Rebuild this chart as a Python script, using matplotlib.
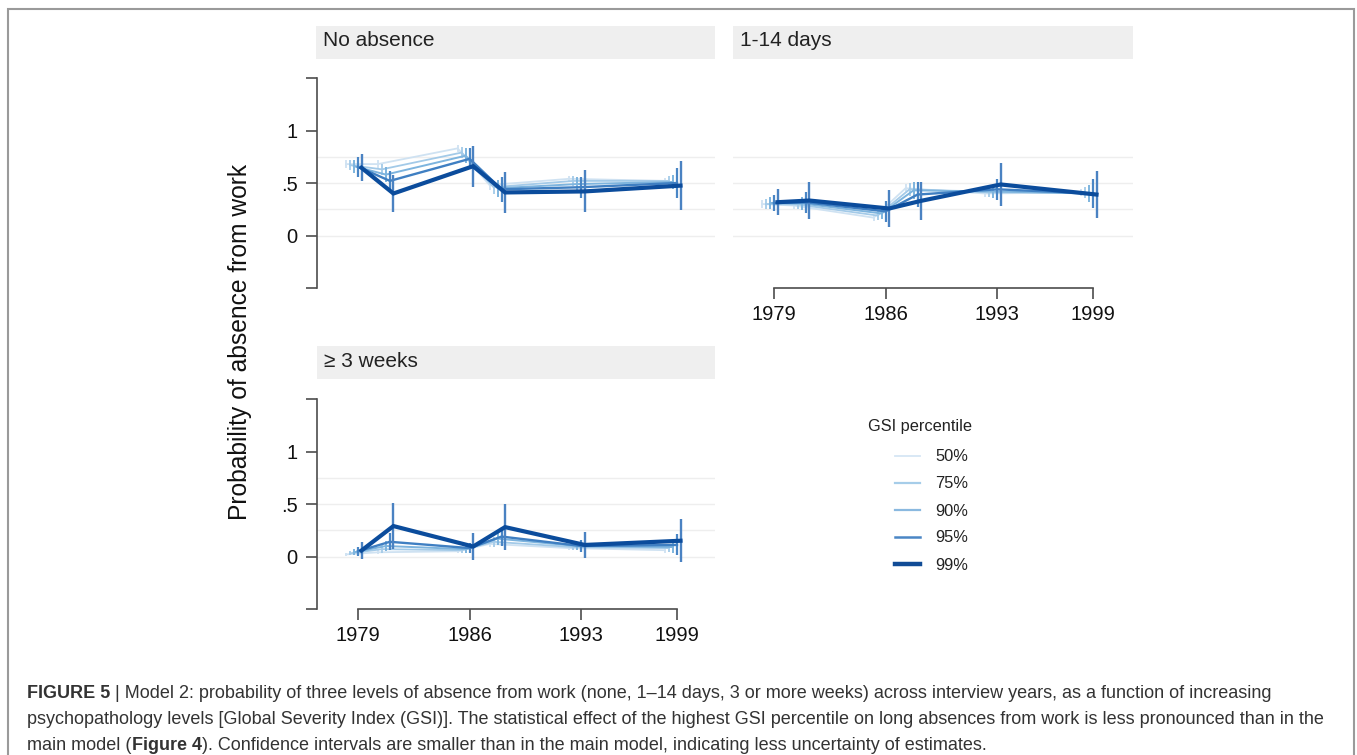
import matplotlib
matplotlib.use("Agg")
import matplotlib.pyplot as plt
from matplotlib.patches import Rectangle
from matplotlib.lines import Line2D

plt.rcParams['font.family'] = ['Liberation Sans', 'DejaVu Sans']

# ---------------- data ----------------
waves = [1979, 1981, 1986, 1988, 1993, 1999]
tick_years = [1979, 1986, 1993, 1999]
percentiles = ["50%", "75%", "90%", "95%", "99%"]
panel_titles = ["No absence", "1-14 days", "\u2265 3 weeks"]

# mean predicted probability per percentile (rows) and wave (cols)
no_absence = [
    [0.68, 0.68, 0.83, 0.48, 0.54, 0.52],
    [0.67, 0.63, 0.79, 0.46, 0.52, 0.52],
    [0.66, 0.58, 0.76, 0.45, 0.49, 0.51],
    [0.655, 0.52, 0.73, 0.44, 0.46, 0.50],
    [0.645, 0.40, 0.66, 0.41, 0.42, 0.475],
]
no_absence_ci = [
    [0.04, 0.035, 0.035, 0.05, 0.03, 0.03],
    [0.05, 0.05, 0.05, 0.06, 0.045, 0.05],
    [0.06, 0.07, 0.07, 0.08, 0.065, 0.07],
    [0.095, 0.09, 0.10, 0.12, 0.10, 0.14],
    [0.13, 0.175, 0.195, 0.195, 0.20, 0.23],
]
days_1_14 = [
    [0.30, 0.285, 0.17, 0.45, 0.40, 0.41],
    [0.30, 0.295, 0.19, 0.44, 0.41, 0.41],
    [0.31, 0.305, 0.21, 0.43, 0.42, 0.40],
    [0.31, 0.315, 0.23, 0.39, 0.44, 0.40],
    [0.317, 0.333, 0.257, 0.33, 0.486, 0.39],
]
days_1_14_ci = [
    [0.035, 0.035, 0.03, 0.045, 0.03, 0.03],
    [0.045, 0.045, 0.04, 0.06, 0.04, 0.05],
    [0.06, 0.06, 0.055, 0.08, 0.06, 0.08],
    [0.08, 0.10, 0.10, 0.12, 0.10, 0.14],
    [0.125, 0.175, 0.18, 0.18, 0.205, 0.225],
]
weeks_3 = [
    [0.02, 0.04, 0.05, 0.12, 0.08, 0.06],
    [0.03, 0.07, 0.06, 0.14, 0.09, 0.08],
    [0.04, 0.10, 0.07, 0.17, 0.10, 0.09],
    [0.05, 0.14, 0.08, 0.19, 0.10, 0.11],
    [0.057, 0.29, 0.095, 0.28, 0.11, 0.15],
]
weeks_3_ci = [
    [0.015, 0.02, 0.02, 0.03, 0.02, 0.025],
    [0.02, 0.035, 0.025, 0.045, 0.03, 0.04],
    [0.03, 0.05, 0.035, 0.06, 0.04, 0.06],
    [0.045, 0.08, 0.05, 0.09, 0.06, 0.10],
    [0.085, 0.22, 0.13, 0.22, 0.125, 0.205],
]

# ---------------- styling ----------------
offsets = [-0.75, -0.5, -0.25, 0.0, 0.22]
line_colors = ['#cfe2f2', '#a3cae8', '#7db4de', '#3f7fc2', '#0b4c9c']
bar_colors = ['#cfe2f2', '#a3cae8', '#7db4de', '#4a86c5', '#4a82c2']
line_widths = [1.3, 1.3, 1.4, 1.7, 3.0]
bar_widths = [1.3, 1.3, 1.4, 1.6, 1.7]
legend_colors = ['#d6e6f4', '#a6cde9', '#8ab9e0', '#4a86c5', '#114c96']
legend_widths = [1.3, 1.6, 1.6, 1.8, 3.2]

W, H = 1357, 755
fig = plt.figure(figsize=(W / 100, H / 100), dpi=100)
fig.patch.set_facecolor('white')


def fx(px):
    return px / W


def fy(py):
    return 1 - py / H


axes_px = [(317, 78, 715, 288), (733, 78, 1133, 288), (317, 399, 715, 609)]
strips_px = [(316, 26, 715, 59), (733, 26, 1133, 59), (317, 346, 715, 379)]
axis_grey = '#4d4d4d'
tick_fs = 14.5

panels = [(no_absence, no_absence_ci), (days_1_14, days_1_14_ci), (weeks_3, weeks_3_ci)]
for i, ((means, cis), (x0, y0, x1, y1)) in enumerate(zip(panels, axes_px)):
    ax = fig.add_axes([fx(x0), fy(y1), fx(x1 - x0), (y1 - y0) / H])
    ax.set_xlim(1976.43, 1976.43 + (x1 - x0) / 15.95)
    ax.set_ylim(-0.5, 1.5)
    for g in [0, 0.25, 0.5, 0.75]:
        ax.axhline(g, color='#eeeeee', lw=1.0, zorder=0)
    for k in range(len(percentiles)):
        xs = [w + offsets[k] for w in waves]
        ax.errorbar(xs, means[k], yerr=cis[k], fmt='none', ecolor=bar_colors[k],
                    elinewidth=bar_widths[k], capsize=0, zorder=2 + k)
        ax.plot(xs, means[k], color=line_colors[k], lw=line_widths[k],
                solid_joinstyle='miter', zorder=2 + k + 0.5)
    for s in ['top', 'right']:
        ax.spines[s].set_visible(False)
    ax.tick_params(colors=axis_grey, labelcolor='#111111', labelsize=tick_fs,
                   length=8, width=1.2)
    if i in (0, 2):
        ax.spines['left'].set_bounds(-0.5, 1.5)
        ax.spines['left'].set_color(axis_grey)
        ax.spines['left'].set_linewidth(1.2)
        ax.set_yticks([-0.5, 0, 0.5, 1, 1.5])
        ax.set_yticklabels(['', '0', '.5', '1', ''])
        ax.tick_params(axis='y', pad=6)
    else:
        ax.spines['left'].set_visible(False)
        ax.set_yticks([])
    if i in (1, 2):
        ax.spines['bottom'].set_bounds(tick_years[0], tick_years[-1])
        ax.spines['bottom'].set_color(axis_grey)
        ax.spines['bottom'].set_linewidth(1.2)
        ax.set_xticks(tick_years)
        ax.set_xticklabels([str(t) for t in tick_years])
        ax.tick_params(axis='x', pad=4)
    else:
        ax.spines['bottom'].set_visible(False)
        ax.set_xticks([])
    ax.patch.set_visible(False)

# strips with titles
for (sx0, sy0, sx1, sy1), title in zip(strips_px, panel_titles):
    fig.add_artist(Rectangle((fx(sx0), fy(sy1)), fx(sx1 - sx0), (sy1 - sy0) / H,
                             transform=fig.transFigure, facecolor='#efefef',
                             edgecolor='none', zorder=0))
    fig.text(fx(sx0 + 7), fy((sy0 + sy1) / 2 - 1.5), title, fontsize=15, color='#222222',
             ha='left', va='center')

# y label
fig.text(fx(240), fy(342), 'Probability of absence from work', rotation=90,
         fontsize=17.7, color='#111111', ha='center', va='center')

# legend
fig.text(fx(868), fy(426), 'GSI percentile', fontsize=11.8, color='#222222',
         ha='left', va='center')
for k, lab in enumerate(percentiles):
    yy = 456 + 27 * k
    fig.add_artist(Line2D([fx(895), fx(920)], [fy(yy), fy(yy)], transform=fig.transFigure,
                          color=legend_colors[k], lw=legend_widths[k]))
    fig.text(fx(935), fy(yy + 1), lab, fontsize=11.8, color='#222222', ha='left', va='center')

# outer border
fig.add_artist(Rectangle((fx(8), -0.02), fx(1354 - 8), fy(9) + 0.02, transform=fig.transFigure,
                         fill=False, edgecolor='#9a9a9a', lw=1.5))

# caption
renderer = fig.canvas.get_renderer()
line1_b = 'FIGURE 5'
line1_r = ('| Model 2: probability of three levels of absence from work (none, 1\u201314 days, '
           '3 or more weeks) across interview years, as a function of increasing')
line2 = ('psychopathology levels [Global Severity Index (GSI)]. The statistical effect of the '
         'highest GSI percentile on long absences from work is less pronounced than in the')
line3_a = 'main model ('
line3_b = 'Figure 4'
line3_c = '). Confidence intervals are smaller than in the main model, indicating less uncertainty of estimates.'

cap_color = '#333333'


def width_of(txt, fs, weight='normal'):
    t = fig.text(0, 0, txt, fontsize=fs, fontweight=weight)
    w = t.get_window_extent(renderer).width
    t.remove()
    return w


cs = 12.0
tot = width_of(line1_b, cs, 'bold') + cs * 100 / 72 * 0.278 + width_of(line1_r, cs)
cs = cs * 1246 / tot
sp = cs * 100 / 72 * 0.278


def draw_runs(runs, x, y):
    for txt, weight, gap in runs:
        t = fig.text(fx(x), fy(y), txt, fontsize=cs, fontweight=weight, color=cap_color,
                     ha='left', va='center')
        x += t.get_window_extent(renderer).width + gap


draw_runs([(line1_b, 'bold', sp), (line1_r, 'normal', 0)], 27, 693)
draw_runs([(line2, 'normal', 0)], 27, 719)
draw_runs([(line3_a, 'normal', 0.5), (line3_b, 'bold', 0.5), (line3_c, 'normal', 0)], 27, 745)

fig.savefig('out.png', dpi=100, facecolor='white')
